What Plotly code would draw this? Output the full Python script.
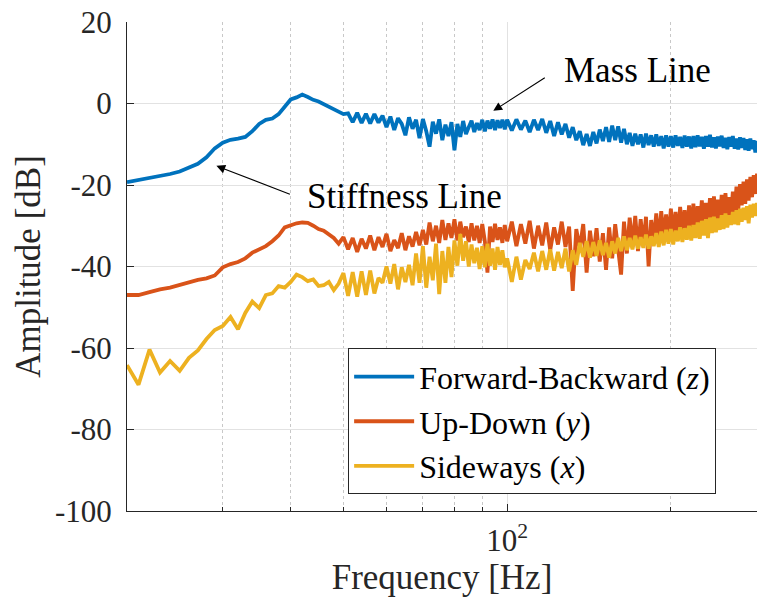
import math
import plotly.graph_objects as go

# Frequency grid [Hz]: 1 Hz bins up to 99 Hz, 2 Hz bins from 100 to 300 Hz
freq = list(range(20, 100)) + list(range(100, 301, 2))

# Amplitude [dB] - Forward-Backward (z)
amp_z = [
    -19.3, -18.8, -18.3, -17.8, -17.3, -16.7, -15.8, -14.8, -13.2, -11.0,
    -9.6, -8.9, -8.6, -8.2, -6.8, -5.0, -4.0, -3.7, -2.6, -0.6,
    1.0, 1.5, 2.2, 1.6, 0.9, 0.5, -0.2, -0.8, -1.4, -2.2,
    -2.6, -2.4, -4.6, -2.3, -4.8, -2.5, -4.9, -2.6, -4.7, -3.0,
    -5.8, -3.2, -6.5, -3.6, -5.0, -7.8, -3.4, -6.2, -4.0, -8.5,
    -3.8, -6.8, -10.6, -4.5, -7.4, -3.9, -9.0, -5.2, -8.0, -4.6,
    -11.5, -5.0, -8.2, -4.3, -7.5, -5.8, -4.2, -7.0, -4.8, -6.5,
    -4.0, -6.8, -4.2, -6.2, -3.9, -6.5, -4.1, -6.0, -4.0, -6.3,
    # 100 Hz and up (2 Hz bins)
    -4.0, -6.6, -3.9, -6.4, -4.2, -7.0, -4.0, -6.5, -3.8, -7.2,
    -4.3, -8.0, -4.6, -7.6, -5.0, -8.4, -5.8, -9.0, -6.8, -10.2,
    -7.5, -10.4, -7.0, -9.8, -6.4, -9.2, -5.8, -9.4, -5.4, -9.0,
    -5.6, -9.6, -6.2, -10.0, -7.2, -10.4, -7.4, -10.0, -7.6, -10.8,
    -7.4, -10.2, -7.8, -10.6, -7.6, -10.4, -8.0, -11.0, -7.8, -10.6,
    -8.0, -10.8, -7.8, -10.4, -8.2, -10.9, -7.9, -10.6, -8.1, -11.0,
    -8.0, -10.7, -7.8, -10.5, -8.2, -11.1, -8.0, -10.6, -7.7, -10.8,
    -8.3, -11.0, -8.1, -10.5, -7.9, -10.9, -8.4, -11.2, -8.2, -10.6,
    -8.0, -11.1, -8.6, -11.3, -8.3, -10.9, -8.5, -11.4, -8.8, -11.6,
    -8.6, -11.2, -9.0, -12.0, -9.2, -11.5, -8.9, -11.8, -9.1, -11.4,
    -9.3,
]

# Amplitude [dB] - Up-Down (y)
amp_y = [
    -47.0, -47.0, -46.3, -45.6, -45.2, -44.5, -43.8, -43.3, -42.9, -42.2,
    -40.2, -39.4, -38.9, -38.0, -36.6, -35.9, -35.0, -33.8, -32.4, -30.4,
    -29.8, -29.4, -29.2, -29.3, -30.0, -30.8, -31.2, -32.2, -33.0, -34.4,
    -32.8, -35.8, -33.0, -36.4, -33.2, -35.6, -32.4, -36.0, -32.8, -35.2,
    -32.0, -36.2, -33.5, -35.5, -31.8, -36.0, -32.6, -35.1, -31.5, -34.8,
    -31.0, -34.6, -29.2, -33.8, -30.0, -34.2, -28.6, -33.5, -29.4, -33.0,
    -28.4, -33.6, -29.0, -32.8, -30.2, -34.0, -29.4, -33.6, -30.0, -34.2,
    -29.6, -33.8, -41.5, -30.2, -34.0, -29.5, -33.5, -30.4, -34.2, -29.8,
    # 100 Hz and up (2 Hz bins)
    -33.8, -29.0, -35.0, -29.6, -34.4, -28.8, -35.6, -30.0, -34.8, -29.2,
    -36.0, -30.4, -34.6, -29.0, -35.2, -30.2, -46.0, -30.8, -35.6, -29.6,
    -41.5, -31.2, -37.5, -30.6, -38.8, -31.8, -40.8, -30.4, -38.0, -29.6,
    -35.4, -42.0, -29.0, -36.8, -28.0, -35.0, -27.6, -36.2, -28.4, -34.6,
    -27.8, -40.0, -28.6, -33.8, -27.0, -34.2, -26.4, -32.8, -27.2, -33.4,
    -25.8, -32.4, -26.6, -33.0, -25.4, -31.8, -26.2, -32.6, -25.0, -31.2,
    -24.6, -31.6, -25.2, -30.4, -23.8, -30.0, -24.4, -29.6, -23.2, -30.2,
    -22.8, -29.4, -23.6, -28.8, -22.4, -29.6, -22.0, -28.4, -23.0, -27.8,
    -21.6, -27.0, -20.4, -26.4, -19.8, -25.0, -19.2, -24.6, -18.6, -23.8,
    -18.0, -23.0, -17.6, -22.2, -17.2, -21.6, -16.8, -21.0, -16.4, -20.6,
    -16.0,
]

# Amplitude [dB] - Sideways (x)
amp_x = [
    -64.2, -69.0, -60.4, -66.0, -63.2, -65.6, -62.4, -60.6, -57.8, -55.6,
    -54.6, -52.4, -55.4, -51.4, -48.6, -50.2, -47.0, -46.6, -44.8, -45.2,
    -43.8, -42.0, -42.6, -43.6, -43.2, -44.8, -44.6, -43.8, -45.8, -44.2,
    -41.6, -47.2, -41.4, -47.4, -41.2, -47.0, -41.0, -46.6, -42.8, -44.0,
    -40.0, -44.2, -39.4, -45.6, -40.2, -43.8, -39.6, -44.6, -36.8, -44.0,
    -35.0, -45.2, -37.6, -43.4, -34.4, -46.8, -36.2, -44.0, -35.2, -42.6,
    -33.6, -39.8, -32.0, -38.6, -33.8, -40.0, -34.6, -39.2, -35.4, -40.6,
    -35.0, -40.2, -34.4, -39.8, -35.6, -40.8, -35.2, -39.6, -36.0, -40.2,
    # 100 Hz and up (2 Hz bins)
    -38.0, -43.8, -37.6, -43.2, -38.4, -40.6, -36.6, -41.2, -36.2, -40.8,
    -35.8, -41.0, -36.4, -40.4, -35.6, -41.2, -36.0, -39.6, -34.2, -37.6,
    -33.8, -37.8, -34.0, -37.4, -33.6, -37.2, -34.2, -37.8, -33.8, -36.8,
    -33.0, -36.2, -32.6, -36.0, -33.0, -35.8, -32.4, -35.6, -32.8, -35.4,
    -32.2, -35.6, -32.6, -35.0, -31.8, -35.2, -31.4, -34.8, -31.0, -34.4,
    -30.8, -34.6, -31.2, -33.8, -30.4, -34.0, -30.6, -33.4, -30.0, -33.6,
    -29.8, -33.0, -29.2, -33.2, -28.8, -32.4, -28.4, -33.0, -28.0, -31.8,
    -27.8, -31.6, -28.2, -31.0, -27.4, -30.8, -27.0, -30.4, -27.4, -29.8,
    -26.6, -29.6, -26.2, -29.8, -25.8, -29.0, -25.6, -28.6, -25.2, -29.4,
    -24.8, -28.0, -24.6, -27.6, -24.4, -27.4, -24.0, -27.2, -23.8, -26.8,
    -23.6,
]

series_names = ["Forward-Backward (<i>z</i>)", "Up-Down (<i>y</i>)", "Sideways (<i>x</i>)"]
series_colors = ["#0072BD", "#D95319", "#EDB120"]

y_ticks = [-100, -80, -60, -40, -20, 0, 20]
y_ticktext = ["-100", "-80", "-60", "-40", "-20", "0", "20"]
x_minor_ticks = [30, 40, 50, 60, 70, 80, 90, 200]

FONT = "Liberation Serif, DejaVu Serif, serif"
AX = "#262626"

fig = go.Figure()
for name, amp, color in zip(series_names, [amp_z, amp_y, amp_x], series_colors):
    fig.add_trace(go.Scatter(
        x=freq, y=amp, mode="lines", name=name,
        line=dict(color=color, width=3.8),
    ))

# Arrow + text annotations
annots = [
    # (text, x_head_hz, y_head_db, ax, ay, text_x_hz, text_y_db)
    ("Mass Line", 94.3, -1.8, 53, -34, 174.0, 8.2),
    ("Stiffness Line", 29.2, -15.3, 75, 29, 64.7, -22.7),
]
for text, xh, yh, ax, ay, xt, yt in annots:
    fig.add_annotation(
        x=math.log10(xh), y=yh, ax=ax, ay=ay, text="",
        showarrow=True, arrowhead=2, arrowsize=1.6, arrowwidth=1.1,
        arrowcolor="#000000", standoff=0,
    )
    fig.add_annotation(
        x=math.log10(xt), y=yt, text=text, showarrow=False,
        xanchor="center", yanchor="middle",
        font=dict(family=FONT, size=35, color="#000000"),
    )

fig.update_layout(
    width=757, height=599,
    margin=dict(l=127, r=0, t=22, b=88),
    paper_bgcolor="white", plot_bgcolor="white",
    font=dict(family=FONT, color=AX),
    showlegend=True,
    legend=dict(
        x=0.351, y=0.034, xanchor="left", yanchor="bottom",
        bgcolor="white", bordercolor=AX, borderwidth=1,
        font=dict(family=FONT, size=32, color="#000000"),
        tracegroupgap=0, itemwidth=60,
    ),
    xaxis=dict(
        type="log", range=[math.log10(20), math.log10(288)],
        showline=True, linecolor=AX, linewidth=1, mirror=False,
        ticks="inside", ticklen=7, tickcolor=AX,
        tickvals=[100], ticktext=["10<sup>2</sup>"],
        tickfont=dict(family=FONT, size=31, color=AX),
        ticklabelstandoff=2,
        showgrid=True, gridcolor="#e2e2e2", gridwidth=1,
        minor=dict(tickvals=x_minor_ticks, showgrid=True, griddash="dot",
                   gridcolor="#c8c8c8", gridwidth=1,
                   ticks="inside", ticklen=4, tickcolor=AX),
        zeroline=False,
        title=dict(text="Frequency [Hz]", standoff=6,
                   font=dict(family=FONT, size=35, color=AX)),
    ),
    yaxis=dict(
        range=[-100, 20], showline=True, linecolor=AX, linewidth=1, mirror=False,
        ticks="inside", ticklen=7, tickcolor=AX,
        tickvals=y_ticks, ticktext=y_ticktext,
        tickfont=dict(family=FONT, size=31, color=AX),
        ticklabelstandoff=8,
        showgrid=True, gridcolor="#e2e2e2", gridwidth=1,
        zeroline=False,
        title=dict(text="Amplitude [dB]", standoff=3,
                   font=dict(family=FONT, size=35, color=AX)),
    ),
)

fig.write_html("out.html")
